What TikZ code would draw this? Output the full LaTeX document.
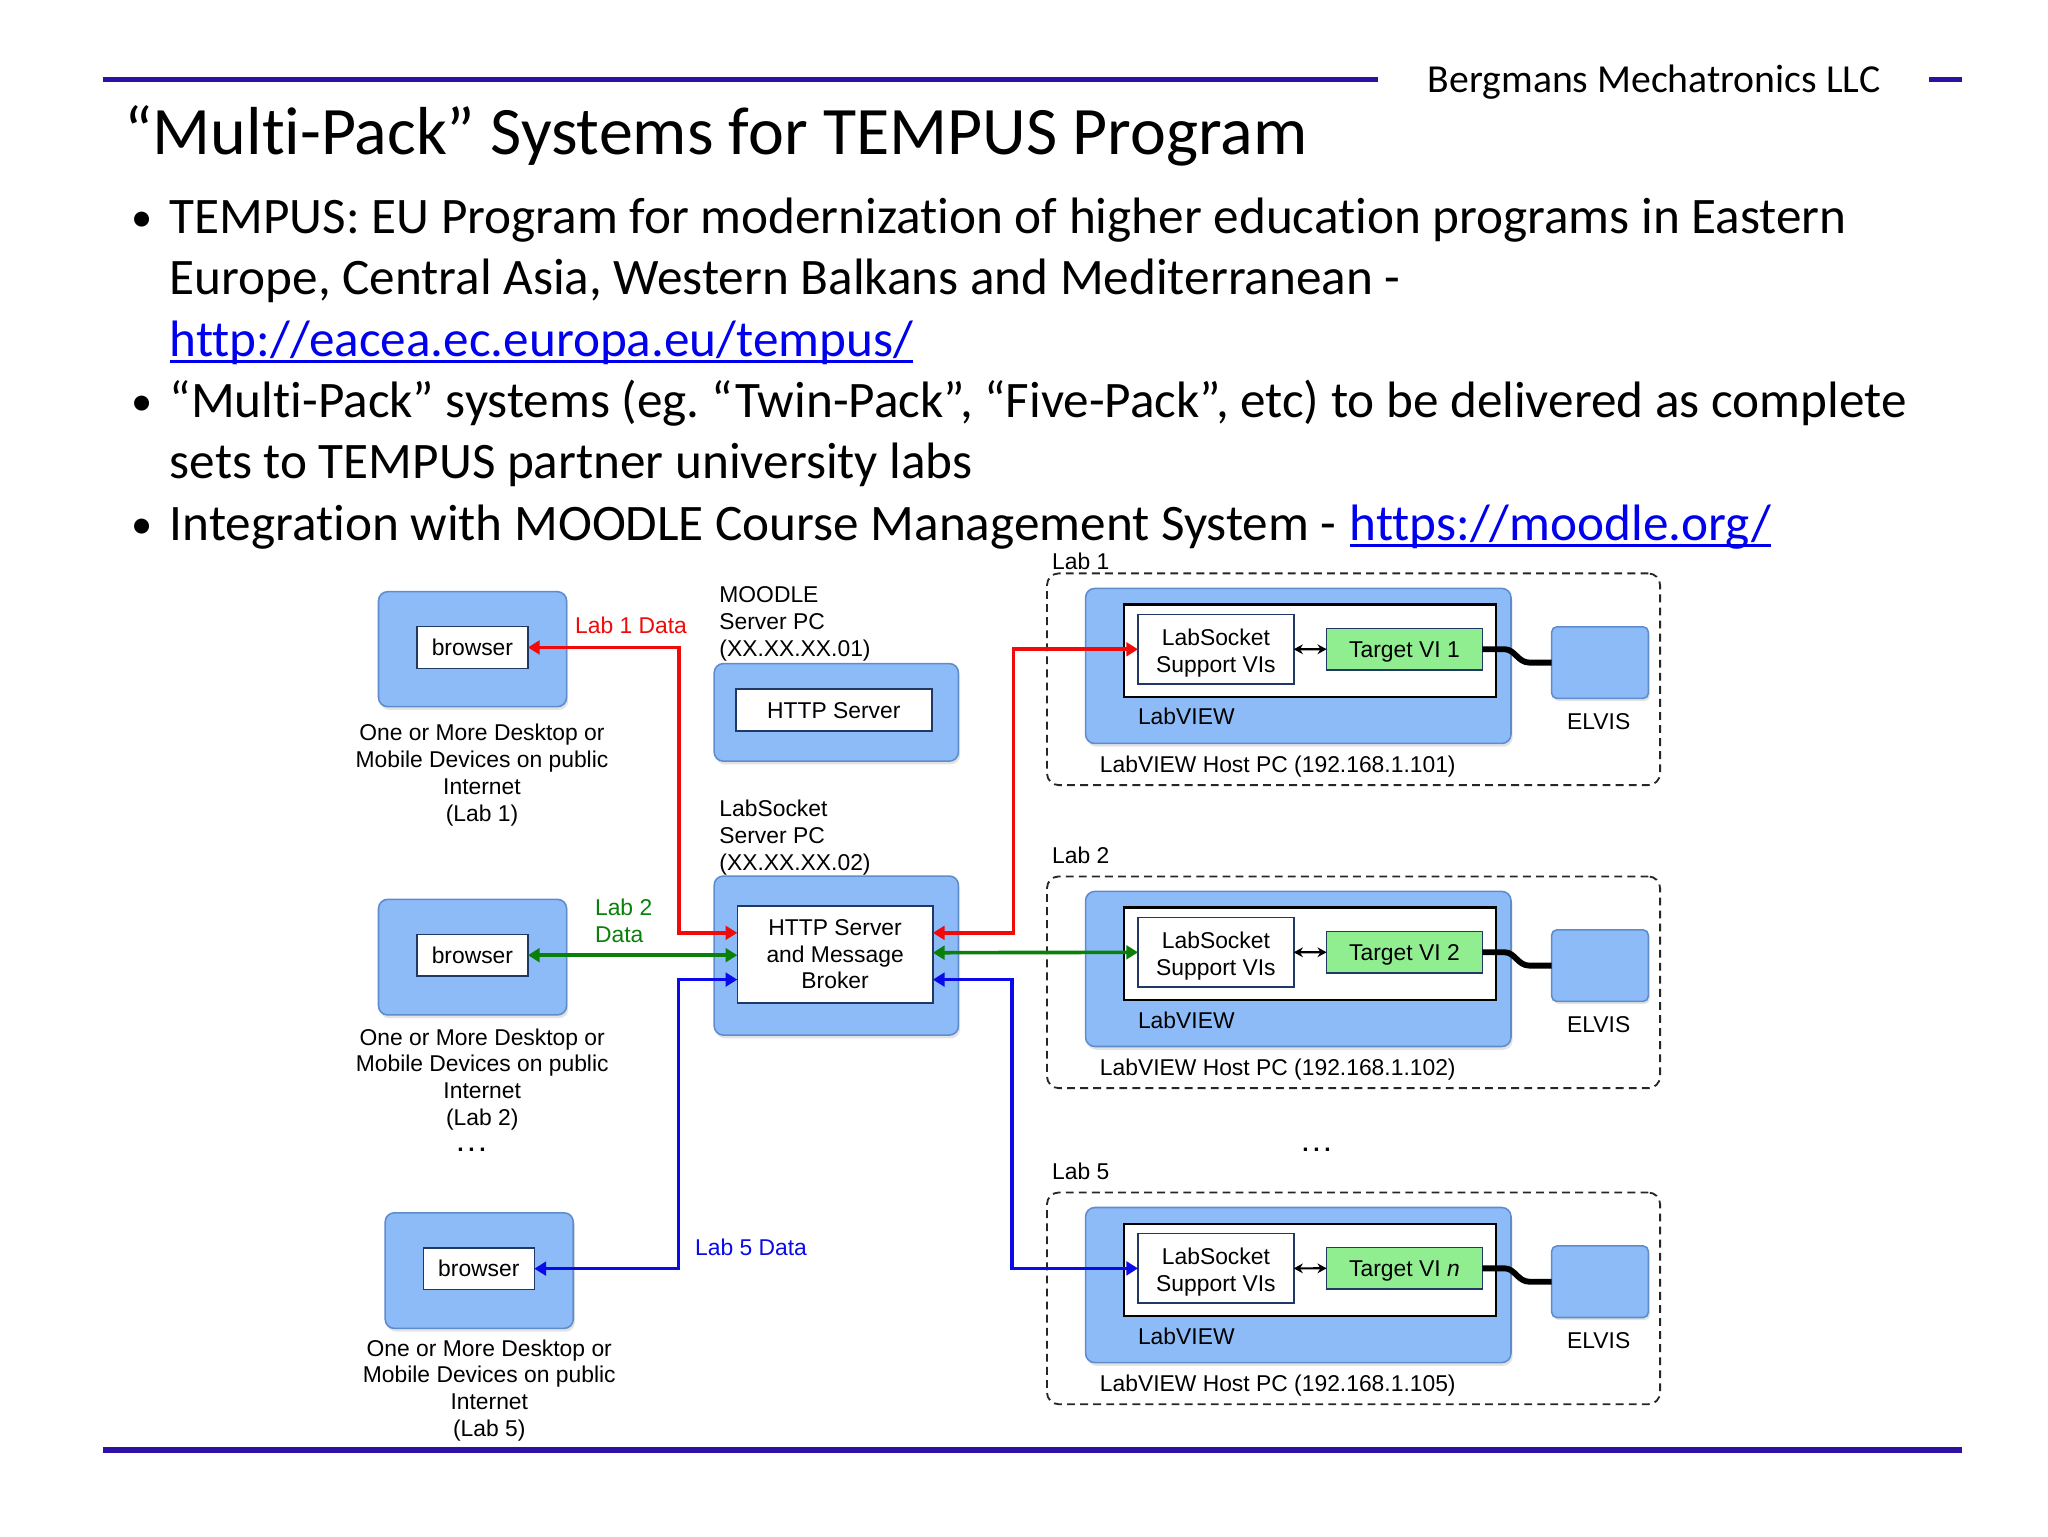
\documentclass[tikz,border=0pt]{standalone}
\usepackage{fontspec}
\setmainfont{Carlito}[Ligatures={NoCommon,NoContextual}]
\newfontfamily\arialf{Liberation Sans}
\usetikzlibrary{arrows.meta,calc,shadows}
\definecolor{hdrblue}{RGB}{46,16,165}
\definecolor{boxblue}{RGB}{141,187,247}
\definecolor{boxedge}{RGB}{95,140,205}
\definecolor{navy}{RGB}{31,56,100}
\definecolor{tgtgreen}{RGB}{144,238,144}
\definecolor{linkblue}{RGB}{0,0,238}
\definecolor{dred}{RGB}{240,10,10}
\definecolor{dgreen}{RGB}{10,128,10}
\definecolor{dblue}{RGB}{10,10,235}
\frenchspacing
\begin{document}
\begin{tikzpicture}[x=1pt,y=-1pt,
  hdrline/.style={draw=hdrblue,line width=4.2pt},
  hdrtext/.style={inner sep=0pt,outer sep=0pt,anchor=base west,font=\frenchspacing\fontsize{39.2}{47}\selectfont},
  bullet/.style={inner sep=0pt,outer sep=0pt,anchor=base west,font=\fontsize{32.5}{40}\selectfont},
  linktext/.style={hdrtext,text=linkblue},
  uline/.style={draw=linkblue,line width=2pt},
  dtext/.style={font=\arialf\fontsize{17.5}{20.5}\selectfont,inner sep=0pt,outer sep=0pt},
  onel/.style={text height=12.6pt,text depth=0pt},
  bluebox/.style={draw=boxedge,fill=boxblue,line width=1.2pt,rounded corners=7pt,inner sep=0pt,outer sep=0pt,
    drop shadow={opacity=0.22,shadow xshift=1.2pt,shadow yshift=-2.5pt}},
  inbox/.style={draw=navy,fill=white,line width=1.2pt,inner sep=0pt,outer sep=0pt,dtext,align=center},
  lvbox/.style={draw=black,fill=white,line width=1.6pt,inner sep=0pt,outer sep=0pt},
  tgtbox/.style={draw=navy,fill=tgtgreen,line width=1.2pt,inner sep=0pt,outer sep=0pt,dtext,onel},
  elvisbox/.style={draw=boxedge,fill=boxblue,line width=1.2pt,rounded corners=4pt,inner sep=0pt,outer sep=0pt,
    drop shadow={opacity=0.22,shadow xshift=1.2pt,shadow yshift=-2pt}},
  labframe/.style={draw=black!85,dashed,dash pattern=on 6pt off 4pt,line width=1.4pt,rounded corners=9pt,inner sep=0pt,outer sep=0pt},
  conn/.style={line width=2.8pt,{Triangle[length=9pt,width=10.5pt]}-{Triangle[length=9pt,width=10.5pt]}},
  redar/.style={conn,draw=dred},
  greenar/.style={conn,draw=dgreen},
  bluear/.style={conn,draw=dblue},
  dbl/.style={draw=black,line width=1.7pt,{Stealth[length=7pt,width=7.5pt]}-{Stealth[length=7pt,width=7.5pt]}},
  cable/.style={draw=black,line width=4.5pt},
  dotsty/.style={dtext,font=\arialf\bfseries\fontsize{17.5}{20.5}\selectfont}
]
\useasboundingbox (0,0) rectangle (1568,1176);
\fill[white] (0,0) rectangle (1568,1176);

% ---------- header ----------
\draw[hdrline] (79,61) -- (1055,61);
\draw[hdrline] (1477,61) -- (1502,61);
\draw[hdrline] (79,1110) -- (1502,1110);
\node[inner sep=0pt,anchor=base west,font=\fontsize{30.4}{36}\selectfont] (company) at (1093,71) {Bergmans Mechatronics LLC};
\node[inner sep=0pt,anchor=base west,font=\fontsize{52}{60}\selectfont] (title) at (95,118.5) {“Multi-Pack” Systems for TEMPUS Program};

\node[bullet] (bu1) at (101,177.3) {•};
\node[hdrtext] (t1) at (130,178.6) {TEMPUS: EU Program for modernization of higher education programs in Eastern};
\node[hdrtext] (t2) at (130,225.6) {Europe, Central Asia, Western Balkans and Mediterranean -};
\node[linktext] (lk1) at (130,272.6) {http://eacea.ec.europa.eu/tempus/};
\draw[uline] ($(lk1.base west)+(0,4)$) -- ($(lk1.base east)+(0,4)$);
\node[bullet] (bu2) at (101,318.3) {•};
\node[hdrtext] (t4) at (130,319.6) {“Multi-Pack” systems (eg. “Twin-Pack”, “Five-Pack”, etc) to be delivered as complete};
\node[hdrtext] (t5) at (130,366.6) {sets to TEMPUS partner university labs};
\node[bullet] (bu3) at (101,412.3) {•};
\node[hdrtext] (t6) at (130,413.6) {Integration with MOODLE Course Management System -};
\node[linktext] (lk2) at ([xshift=10pt]t6.base east) {https://moodle.org/};
\draw[uline] ($(lk2.base west)+(0,4)$) -- ($(lk2.base east)+(0,4)$);

% ---------- browsers ----------
\node[bluebox,minimum width=144pt,minimum height=88pt] (b1) at (361.8,497) {};
\node[inbox,onel,minimum width=85pt,minimum height=32pt] (b1in) at (361.7,495.7) {browser};
\node[dtext,align=center] (c1) at (369,593.5) {One or More Desktop or\\Mobile Devices on public\\Internet\\(Lab 1)};

\node[bluebox,minimum width=144pt,minimum height=88.5pt] (b2) at (361.8,732.8) {};
\node[inbox,onel,minimum width=85pt,minimum height=32pt] (b2in) at (361.7,731.3) {browser};
\node[dtext,align=center] (c2) at (369.2,826.3) {One or More Desktop or\\Mobile Devices on public\\Internet\\(Lab 2)};
\node[dotsty] (dots1) at (361,880) {.\kern3.5pt.\kern3.5pt.};

\node[bluebox,minimum width=144pt,minimum height=88.5pt] (b5) at (366.9,972.8) {};
\node[inbox,onel,minimum width=85pt,minimum height=32pt] (b5in) at (366.6,971.3) {browser};
\node[dtext,align=center] (c5) at (374.6,1064.5) {One or More Desktop or\\Mobile Devices on public\\Internet\\(Lab 5)};

% ---------- servers ----------
\node[dtext,align=left,anchor=west] (moodlelbl) at (550.8,477.5) {MOODLE\\Server PC\\(XX.XX.XX.01)};
\node[bluebox,minimum width=187pt,minimum height=74.7pt] (msrv) at (640.3,545.4) {};
\node[inbox,onel,minimum width=150pt,minimum height=32pt] (msrvin) at (638.4,543.7) {HTTP Server};

\node[dtext,align=left,anchor=west] (lslbl) at (550.8,641.4) {LabSocket\\Server PC\\(XX.XX.XX.02)};
\node[bluebox,minimum width=187pt,minimum height=121.8pt] (lsrv) at (640.3,731.6) {};
\node[inbox,minimum width=149.7pt,minimum height=74.2pt] (lsrvin) at (639.4,730.6) {HTTP Server\\and Message\\Broker};

% ---------- labs ----------
\foreach \dy/\ly/\lab/\tgt/\ip/\k in {0/429.5/Lab 1/Target VI 1/101/1, 232/654.7/Lab 2/Target VI 2/102/2, 474/897.1/Lab 5/Target VI \textit{n}/105/5}{
  \node[dtext,anchor=west] (lab\k) at (805.5,\ly) {\lab};
  \node[labframe,minimum width=469.4pt,minimum height=162.1pt] (fr\k) at (1036.3,520.05+\dy) {};
  \node[bluebox,minimum width=325.7pt,minimum height=118.7pt] (lv\k) at (994,509.85+\dy) {};
  \node[lvbox,minimum width=284.9pt,minimum height=70.7pt] (lvin\k) at (1002.75,498.15+\dy) {};
  \node[inbox,minimum width=119.2pt,minimum height=53.4pt] (sp\k) at (930.9,497.1+\dy) {};
  \node[dtext,align=center] (spt\k) at ($(sp\k.center)+(0,2.8)$) {LabSocket\\Support VIs};
  \node[tgtbox,minimum width=119.2pt,minimum height=31.9pt] (tg\k) at (1075.3,497.05+\dy) {\tgt};
  \node[elvisbox,minimum width=74pt,minimum height=54.8pt] (el\k) at (1225,507.3+\dy) {};
  \node[dtext] (elt\k) at (1224,552.6+\dy) {ELVIS};
  \node[dtext,anchor=west] (lvt\k) at (871.3,548.8+\dy) {LabVIEW};
  \node[dtext,anchor=west] (host\k) at (842.1,587.1+\dy) {LabVIEW Host PC (192.168.1.\ip)};
  \draw[dbl] (sp\k.east) -- (tg\k.west);
  \draw[cable] (tg\k.east) -- ($(tg\k.east)+(17,0)$) .. controls ($(tg\k.east)+(25,0)$) and ($(el\k.west)+(-26,0)$) .. ($(el\k.west)+(-17,0)$) -- (el\k.west);
}
\node[dotsty] (dots2) at (1008,880) {.\kern3.5pt.\kern3.5pt.};

% ---------- connectors ----------
\coordinate (sL1) at (564.5,714.2);
\coordinate (sL2) at (564.5,731.3);
\coordinate (sL5) at (564.5,750);
\coordinate (sR1) at (714.2,714.2);
\coordinate (sR2) at (714.2,729.4);
\coordinate (sR5) at (714.2,750);
\coordinate (rb1) at (519.9,714.2);
\coordinate (rb2) at (776,497.1);
\coordinate (bb1) at (519.4,750);
\coordinate (bb2) at (774.6,971.1);

\draw[redar] (b1in.east) -| (rb1) -- (sL1);
\draw[redar] (sR1) -| (rb2) -- (sp1.west);
\draw[greenar] (b2in.east) -- (sL2);
\draw[greenar] (sR2) -- (sp2.west);
\draw[bluear] (b5in.east) -| (bb1) -- (sL5);
\draw[bluear] (sR5) -| (bb2) -- (sp5.west);

\node[dtext,anchor=west,text=dred] (lab1data) at (440.3,478.6) {Lab 1 Data};
\node[dtext,anchor=west,align=left,text=dgreen] (lab2data) at (455.6,705) {Lab 2\\Data};
\node[dtext,anchor=west,text=dblue] (lab5data) at (532.2,955) {Lab 5 Data};
\end{tikzpicture}
\end{document}
